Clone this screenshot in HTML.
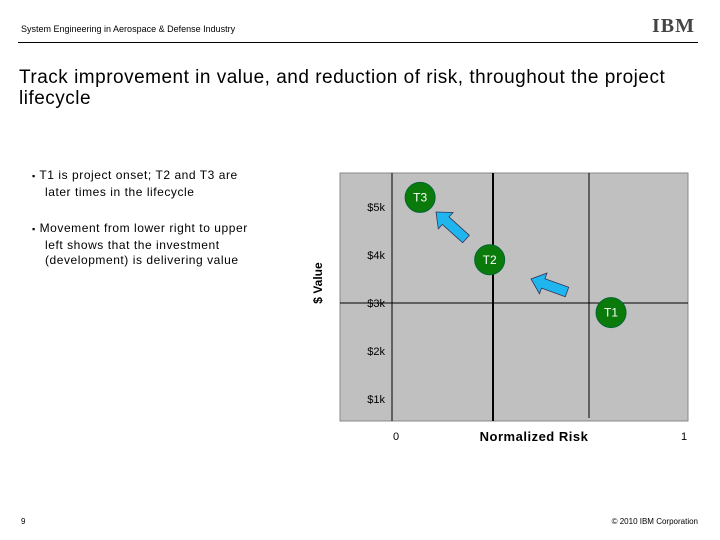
<!DOCTYPE html>
<html><head><meta charset="utf-8"><style>
body{margin:0;width:720px;height:540px;background:#fff;font-family:"Liberation Sans",sans-serif;position:relative;overflow:hidden}
.a{position:absolute;margin:0}
.b{font-size:12px;line-height:15.5px;letter-spacing:0.55px;white-space:nowrap}
</style></head><body>
<div class="a" style="left:21px;top:24px;font-size:9px">System Engineering in Aerospace &amp; Defense Industry</div>
<div class="a" style="left:652px;top:15px;font-size:20px;font-weight:bold;letter-spacing:1px;color:#444;font-family:'Liberation Serif',serif">IBM</div>
<div class="a" style="left:18px;top:42px;width:680px;height:1px;background:#000"></div>
<div class="a" style="left:19px;top:67px;font-size:19px;line-height:21px;letter-spacing:0.5px;width:672px">Track improvement in value, and reduction of risk, throughout the project lifecycle</div>
<div class="a b" style="left:32px;top:168px"><span style="font-size:9px">&#9642;</span> T1 is project onset; T2 and T3 are<br><span style="padding-left:13px">later times in the lifecycle</span></div>
<div class="a b" style="left:32px;top:221px"><span style="font-size:9px">&#9642;</span> Movement from lower right to upper<br><span style="padding-left:13px">left shows that the investment</span><br><span style="padding-left:13px">(development) is delivering value</span></div>
<div class="a" style="left:288px;top:276px;font-size:12px;font-weight:bold;transform:rotate(-90deg);width:60px;text-align:center">$ Value</div>
<svg class="a" style="left:0;top:0" width="720" height="540">
<g id="g"></g></svg>
<div class="a" style="left:21px;top:517px;font-size:8px">9</div>
<div class="a" style="right:22px;top:517px;font-size:8px">© 2010 IBM Corporation</div>
<script>
const yTicks=[5,4,3,2,1];
const yLabels=["$5k","$4k","$3k","$2k","$1k"];
const pointNames=["T1","T2","T3"];
const riskValues=[0.74,0.33,0.095];
const dollarValues=[2.8,3.9,5.2];
const X=r=>392+r*296, Y=v=>303-(v-3)*48;
const g=document.getElementById('g'),NS='http://www.w3.org/2000/svg';
function mk(t,a,txt){const e=document.createElementNS(NS,t);for(const k in a)e.setAttribute(k,a[k]);if(txt)e.textContent=txt;g.appendChild(e);return e;}
let e=mk('rect',{x:340,y:173,width:348,height:248,fill:'#c0c0c0',stroke:'#888'});

[[392,173,392,421,1],[493,173,493,421,2],[589,173,589,418,1],[340,303,688,303,1]].forEach(l=>{e=mk('line',{x1:l[0],y1:l[1],x2:l[2],y2:l[3],stroke:'#000','stroke-width':l[4]});
});
yTicks.forEach((v,i)=>{e=mk('text',{x:385,y:Y(v)+4,'font-size':11,'text-anchor':'end','font-family':'Liberation Sans'},yLabels[i]);
});
e=mk('text',{x:396,y:440,'font-size':11,'text-anchor':'middle'},'0');
e=mk('text',{x:684,y:440,'font-size':11,'text-anchor':'middle'},'1');
e=mk('text',{x:534,y:441,'font-size':13,'font-weight':'bold','text-anchor':'middle','letter-spacing':'0.5'},'Normalized Risk');
function arrow(x1,y1,x2,y2){const dx=x2-x1,dy=y2-y1,L=Math.hypot(dx,dy),ux=dx/L,uy=dy/L,px=-uy,py=ux,w=5,hw=11,hl=13;
const bx=x2-ux*hl,by=y2-uy*hl;const p=[[x1+px*w,y1+py*w],[bx+px*w,by+py*w],[bx+px*hw,by+py*hw],[x2,y2],[bx-px*hw,by-py*hw],[bx-px*w,by-py*w],[x1-px*w,y1-py*w]];
e=mk('polygon',{points:p.map(q=>q.join(',')).join(' '),fill:'#1fb6f0',stroke:'#335','stroke-width':0.8});
}
arrow(567,292,531,279);arrow(466,239,436,212);
pointNames.forEach((n,i)=>{const cx=X(riskValues[i]),cy=Y(dollarValues[i]);
e=mk('circle',{cx:cx,cy:cy,r:15,fill:'#0a7a0a',stroke:'#063'});
e=mk('text',{x:cx,y:cy+4,'font-size':12,fill:'#fff','text-anchor':'middle'},n);});
</script>
</body></html>
